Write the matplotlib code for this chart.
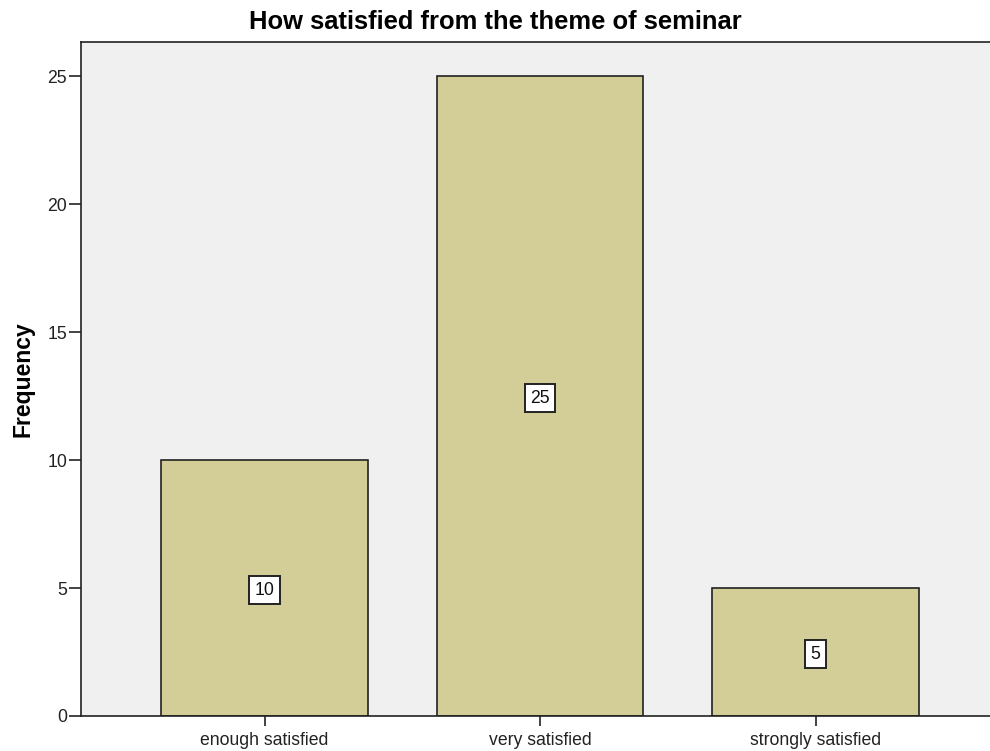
import matplotlib
matplotlib.use('Agg')
import matplotlib.pyplot as plt
import numpy as np

plt.rcParams['font.family'] = ['Liberation Sans', 'DejaVu Sans']

# datos
categorias = ['enough satisfied', 'very satisfied', 'strongly satisfied']
frecuencias = [10, 25, 5]
ticks_y = [0, 5, 10, 15, 20, 25]

fig = plt.figure(figsize=(9.9, 7.51), dpi=100)
ax = fig.add_axes([81/990, 1-716/751, 1-81/990, (716-42)/751])
ax.set_facecolor('#F0F0F0')

x = np.arange(len(categorias))
ax.bar(x, frecuencias, width=0.75, color='#D3CE97', edgecolor='#222222', linewidth=1.2, zorder=2)

# etiquetas en el centro de cada barra
for xi, v in zip(x, frecuencias):
    ax.text(xi, v/2 - 0.08, str(v), ha='center', va='center', fontsize=12.7, color='#111111', zorder=3,
            bbox=dict(boxstyle='square,pad=0.3', facecolor='white', edgecolor='#222222', linewidth=1.4))

ax.set_xlim(-0.666, 2.633)
ax.set_ylim(0, 26.33)
ax.set_xticks(x)
ax.set_xticklabels(categorias, fontsize=12.7, color='#222222')
ax.set_yticks(ticks_y)
ax.set_yticklabels([str(t) for t in ticks_y], fontsize=12.7, color='#222222')
ax.tick_params(axis='y', direction='out', length=9, width=1.2, color='#222222', pad=1)
ax.tick_params(axis='x', direction='out', length=7.5, width=1.2, color='#222222', pad=4)

ax.spines['right'].set_visible(False)
for s in ['left', 'top', 'bottom']:
    ax.spines[s].set_linewidth(1.2)
    ax.spines[s].set_color('#222222')

ax.set_ylabel('Frequency', fontsize=16.5, fontweight='bold', labelpad=9)
# titulo centrado en la figura
fig.text(0.5, 1 - 22/751, 'How satisfied from the theme of seminar', ha='center', va='center',
         fontsize=18.4, fontweight='bold')

fig.savefig('out.png', dpi=100)
